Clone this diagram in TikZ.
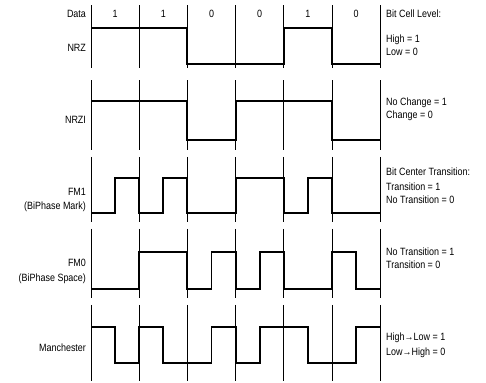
\documentclass[tikz,border=0pt]{standalone}
\usepackage{fontspec}
\setmainfont{Liberation Sans}[FakeStretch=0.85]

\begin{document}
\begin{tikzpicture}[x=1.446cm,y=-0.03cm,
	cellline/.style={line width=0.6pt},
	wave/.style={line width=1.6pt,line join=miter},
	txt/.style={inner sep=0,font=\fontsize{9}{10}\selectfont}]
	\useasboundingbox (-1.888,0) rectangle (8.195,383);
	% bit cell boundaries, one piece per row
	\foreach \k in {0,...,6}
		\foreach \a/\b in {5/68,80/150,157/222,229/298,305/381}
			\draw[cellline] (\k,\a) -- (\k,\b);
	% data bits
	\node[txt,anchor=east] (data) at (-0.1,14) {Data};
	\foreach \d [count=\i from 0] in {1,1,0,0,1,0}
		\node[txt] (bit\i) at (\i+0.5,14) {\d};
	% row names
	\node[txt,anchor=east] (nrz) at (-0.1,48) {NRZ};
	\node[txt,anchor=east] (nrzi) at (-0.1,120) {NRZI};
	\node[txt,anchor=east] (fm1) at (-0.1,192) {FM1};
	\node[txt,anchor=east] (bpm) at (-0.1,207) {(BiPhase Mark)};
	\node[txt,anchor=east] (fm0) at (-0.1,263) {FM0};
	\node[txt,anchor=east] (bps) at (-0.1,279) {(BiPhase Space)};
	\node[txt,anchor=east] (manch) at (-0.1,348) {Manchester};
	% waveforms
	\draw[wave] (0,28) -- (2,28) -- (2,64) -- (4,64) -- (4,28) -- (5,28) -- (5,64) -- (6,64);
	\draw[wave] (0,101) -- (2,101) -- (2,140) -- (3,140) -- (3,101) -- (5,101) -- (5,140) -- (6,140);
	\draw[wave] (0,213) -- (0.5,213) -- (0.5,178) -- (1,178) -- (1,213) -- (1.5,213) -- (1.5,178) -- (2,178)
		-- (2,213) -- (3,213) -- (3,178) -- (4,178) -- (4,213) -- (4.5,213) -- (4.5,178) -- (5,178) -- (5,213) -- (6,213);
	\draw[wave] (0,289) -- (1,289) -- (1,252) -- (2,252) -- (2,289) -- (2.5,289) -- (2.5,252) -- (3,252)
		-- (3,289) -- (3.5,289) -- (3.5,252) -- (4,252) -- (4,289) -- (5,289) -- (5,252) -- (5.5,252) -- (5.5,289) -- (6,289);
	\draw[wave] (0,327) -- (0.5,327) -- (0.5,363) -- (1,363) -- (1,327) -- (1.5,327) -- (1.5,363) -- (2.5,363)
		-- (2.5,327) -- (3,327) -- (3,363) -- (3.5,363) -- (3.5,327) -- (4.5,327) -- (4.5,363) -- (5.5,363) -- (5.5,327) -- (6,327);
	% coding rules
	\node[txt,anchor=west] (lvl) at (6.12,14) {Bit Cell Level:};
	\node[txt,anchor=west] (lvl1) at (6.12,40) {High = 1};
	\node[txt,anchor=west] (lvl0) at (6.12,52) {Low = 0};
	\node[txt,anchor=west] (chg1) at (6.12,103) {No Change = 1};
	\node[txt,anchor=west] (chg0) at (6.12,116) {Change = 0};
	\node[txt,anchor=west] (ctr) at (6.12,172) {Bit Center Transition:};
	\node[txt,anchor=west] (ctr1) at (6.12,187) {Transition = 1};
	\node[txt,anchor=west] (ctr0) at (6.12,200) {No Transition = 0};
	\node[txt,anchor=west] (sp1) at (6.12,252) {No Transition = 1};
	\node[txt,anchor=west] (sp0) at (6.12,265) {Transition = 0};
	\node[txt,anchor=west] (hl1) at (6.12,338) {High→Low = 1};
	\node[txt,anchor=west] (hl0) at (6.12,353) {Low→High = 0};
\end{tikzpicture}
\end{document}
